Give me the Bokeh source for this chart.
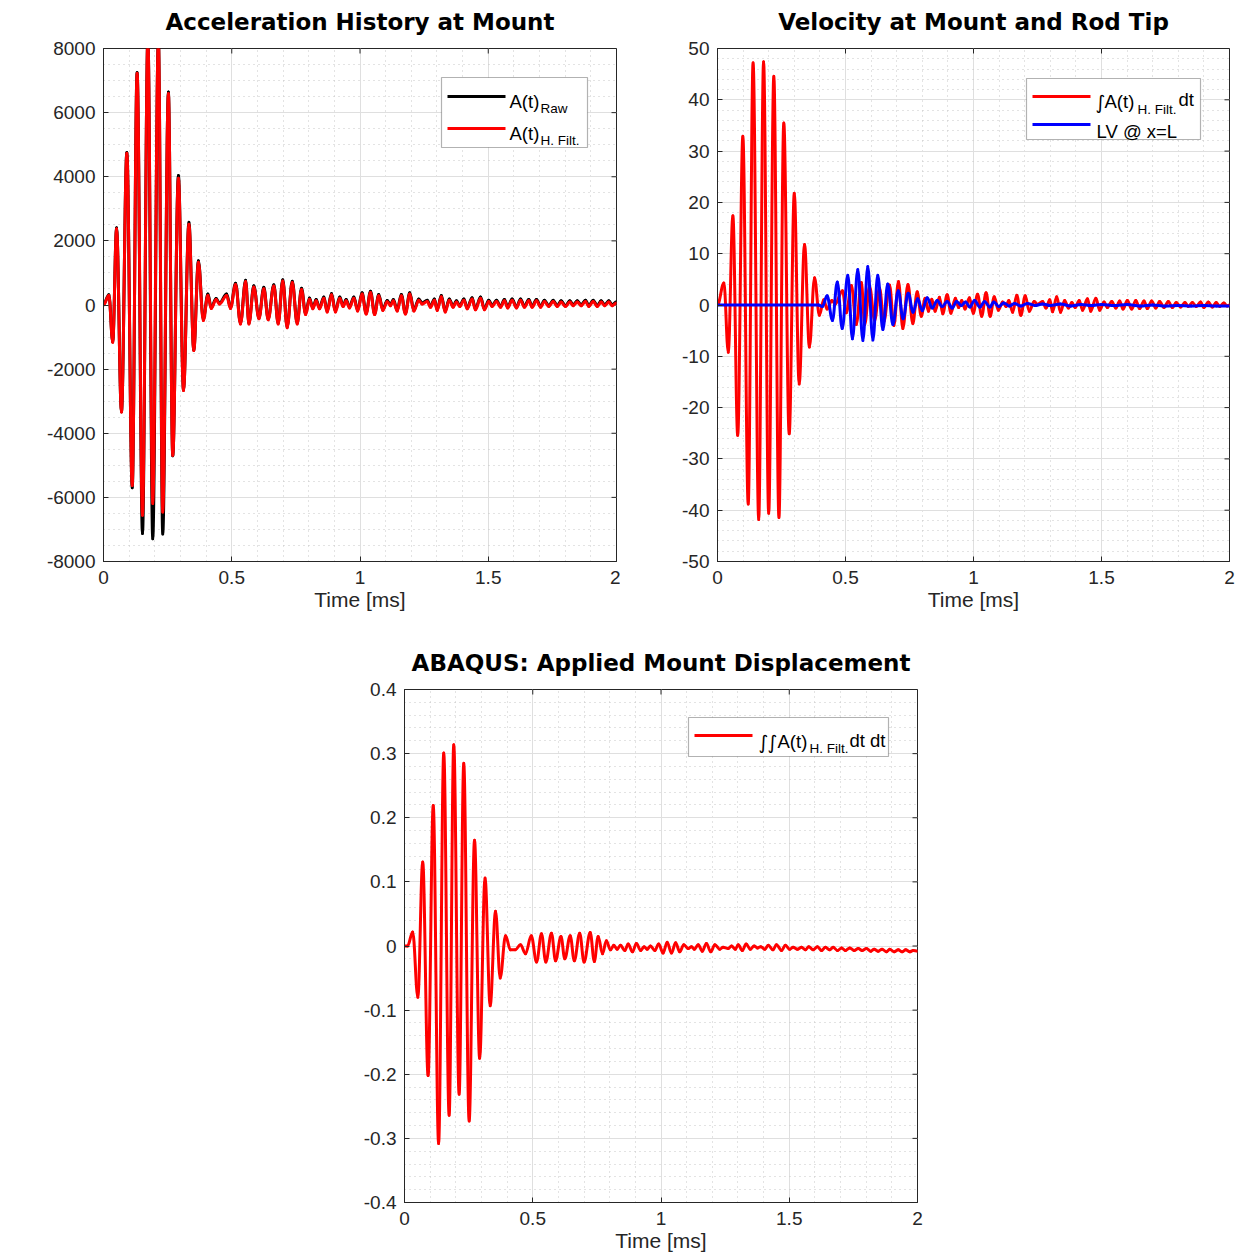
import numpy as np
from bokeh.plotting import figure
from bokeh.layouts import column, row
from bokeh.models import Range1d, FixedTicker, Label, BoxAnnotation, LinearAxis
from bokeh.embed import file_html
from bokeh.resources import INLINE

# ---------------------------------------------------------------- data
# Acceleration at the mount: successive extrema [ms], [m/s^2]
acc_time = [
    0.000, 0.021, 0.036, 0.051, 0.070, 0.091, 0.112, 0.131, 0.152, 0.173,
    0.192, 0.214, 0.231, 0.253, 0.270, 0.292, 0.312, 0.333, 0.352, 0.370,
    0.389, 0.407, 0.420, 0.439, 0.452, 0.480, 0.495, 0.515, 0.534, 0.554,
    0.567, 0.586, 0.606, 0.625, 0.642, 0.664, 0.681, 0.699, 0.716, 0.736,
    0.755, 0.772, 0.788, 0.803, 0.816, 0.829, 0.842, 0.859, 0.872, 0.889,
    0.904, 0.921, 0.934, 0.946, 0.959, 0.976, 0.991, 1.008, 1.024, 1.041,
    1.057, 1.073, 1.089, 1.106, 1.119, 1.130, 1.145, 1.161, 1.177, 1.194,
    1.210, 1.229, 1.242, 1.262, 1.275, 1.290, 1.301, 1.317, 1.332, 1.348,
    1.363, 1.376, 1.389, 1.405, 1.418, 1.437, 1.450, 1.470, 1.485, 1.502,
    1.515, 1.532, 1.548, 1.563, 1.576, 1.593, 1.610, 1.626, 1.641, 1.658,
    1.671, 1.688, 1.704, 1.719, 1.736, 1.753, 1.769, 1.784, 1.801, 1.818,
    1.831, 1.847, 1.862, 1.879, 1.892, 1.909, 1.925, 1.940, 1.954, 1.970,
    1.983, 2.000,
]
acc_filtered = [
    0, 300, -1160, 2380, -3340, 4730, -5630, 7230, -6560, 8300,
    -6190, 8250, -6460, 6600, -4690, 3950, -2670, 2520, -1420, 1330,
    -480, 300, -110, 170, 30, 300, -110, 640, -590, 730,
    -590, 560, -430, 510, -460, 590, -590, 750, -710, 700,
    -590, 480, -300, 180, -120, 130, -120, 210, -220, 320,
    -220, 210, -50, 130, -90, 210, -190, 340, -280, 390,
    -300, 290, -170, 100, -20, 130, -190, 290, -280, 340,
    -190, 150, 30, 110, -70, 150, -170, 260, -220, 150,
    -70, 90, -50, 150, -120, 190, -150, 210, -150, 110,
    -50, 110, -70, 130, -90, 150, -90, 150, -70, 130,
    -70, 130, -70, 110, -50, 110, -50, 90, -50, 90,
    -20, 90, -20, 110, -50, 110, -50, 90, -20, 90,
    -20, 60,
]
acc_raw = [
    20, 320, -1150, 2410, -3330, 4760, -5700, 7250, -7130, 8350,
    -7290, 8300, -7140, 6640, -4700, 4040, -2650, 2580, -1400, 1380,
    -450, 340, -80, 200, 60, 340, -80, 680, -560, 770,
    -560, 600, -400, 550, -430, 630, -560, 790, -680, 740,
    -560, 520, -270, 220, -90, 170, -90, 250, -190, 360,
    -190, 250, -20, 170, -60, 250, -160, 380, -250, 430,
    -270, 330, -140, 140, 10, 170, -160, 330, -250, 380,
    -160, 190, 60, 150, -40, 190, -140, 300, -190, 190,
    -40, 130, -20, 190, -90, 230, -120, 250, -120, 150,
    -20, 150, -40, 170, -60, 190, -60, 190, -40, 170,
    -40, 170, -40, 150, -20, 150, -20, 130, -20, 130,
    10, 130, 10, 150, -20, 150, -20, 130, 10, 130,
    10, 100,
]

# Velocity: integrated mount acceleration and laser vibrometer at the rod tip [mm/s]
vel_time = [
    0.000, 0.025, 0.042, 0.060, 0.079, 0.099, 0.120, 0.139, 0.161, 0.180,
    0.200, 0.220, 0.240, 0.259, 0.280, 0.300, 0.319, 0.340, 0.359, 0.379,
    0.398, 0.415, 0.428, 0.447, 0.460, 0.488, 0.503, 0.523, 0.542, 0.562,
    0.575, 0.594, 0.614, 0.633, 0.650, 0.672, 0.689, 0.707, 0.724, 0.744,
    0.763, 0.780, 0.796, 0.811, 0.824, 0.837, 0.850, 0.867, 0.880, 0.897,
    0.912, 0.929, 0.942, 0.954, 0.967, 0.984, 0.999, 1.016, 1.032, 1.049,
    1.065, 1.081, 1.097, 1.114, 1.127, 1.138, 1.153, 1.169, 1.185, 1.202,
    1.218, 1.237, 1.250, 1.270, 1.283, 1.298, 1.309, 1.325, 1.340, 1.356,
    1.371, 1.384, 1.397, 1.413, 1.426, 1.445, 1.458, 1.478, 1.493, 1.510,
    1.523, 1.540, 1.556, 1.571, 1.584, 1.601, 1.618, 1.634, 1.649, 1.666,
    1.679, 1.696, 1.712, 1.727, 1.744, 1.761, 1.777, 1.792, 1.809, 1.826,
    1.839, 1.855, 1.870, 1.887, 1.900, 1.917, 1.933, 1.948, 1.962, 1.978,
    1.991, 2.000,
]
vel_integrated = [
    0, 4.3, -9.2, 17.4, -25.4, 32.9, -38.8, 47.2, -41.8, 47.4,
    -40.6, 44.6, -41.4, 35.5, -25.1, 21.8, -15.4, 11.8, -8.2, 5.3,
    -2.0, 1.0, -0.8, 0.9, 0.2, 2.8, -1.5, 3.8, -3.8, 4.4,
    -3.8, 3.6, -3.0, 3.3, -3.2, 3.9, -4.0, 4.6, -4.6, 4.0,
    -3.6, 2.6, -2.2, 1.3, -1.2, 1.1, -1.2, 1.5, -1.7, 2.0,
    -1.6, 1.3, -0.5, 0.9, -0.8, 1.4, -1.6, 2.1, -2.2, 2.4,
    -2.2, 1.6, -1.0, 0.6, -0.3, 0.9, -1.4, 1.9, -2.0, 1.8,
    -1.2, 0.7, 0.1, 0.7, -0.6, 1.0, -1.3, 1.6, -1.4, 0.9,
    -0.6, 0.5, -0.5, 0.9, -1.0, 1.2, -1.2, 1.3, -1.0, 0.6,
    -0.5, 0.7, -0.6, 0.8, -0.8, 0.9, -0.8, 0.9, -0.7, 0.8,
    -0.7, 0.8, -0.6, 0.7, -0.5, 0.7, -0.5, 0.5, -0.4, 0.5,
    -0.3, 0.5, -0.3, 0.6, -0.5, 0.6, -0.4, 0.5, -0.3, 0.4,
    -0.2, 0.0,
]
lv_time = [
    0.000, 0.395, 0.410, 0.428, 0.449, 0.468, 0.487, 0.509, 0.527, 0.548,
    0.568, 0.587, 0.607, 0.626, 0.646, 0.665, 0.685, 0.706, 0.725, 0.745,
    0.764, 0.782, 0.800, 0.819, 0.839, 0.858, 0.878, 0.897, 0.917, 0.934,
    0.952, 0.969, 0.986, 1.004, 1.025, 1.043, 1.064, 1.079, 1.099, 1.118,
    1.140, 1.160, 1.185, 1.210, 1.240, 1.270, 1.300, 1.340, 1.380, 1.420,
    1.460, 1.500, 1.550, 1.600, 1.650, 1.700, 1.750, 1.800, 1.850, 1.900,
    1.950, 2.000,
]
lv_tip = [
    0, 0, -0.3, 1.8, -3.0, 4.5, -4.6, 5.8, -6.6, 6.9,
    -6.9, 7.5, -6.8, 5.8, -4.8, 4.1, -3.8, 2.8, -2.7, 2.3,
    -1.4, 1.2, -1.1, 1.4, -0.6, 0.9, -0.3, 0.7, -0.6, 0.7,
    -0.1, 0.6, -0.4, 0.9, -0.4, 0.7, -0.4, 0.6, -0.3, 0.4,
    -0.2, 0.3, -0.2, 0.3, -0.1, 0.2, -0.1, 0.2, -0.2, 0.1,
    -0.1, 0.1, -0.1, 0.1, -0.2, 0.0, -0.2, -0.1, -0.2, -0.1,
    -0.2, -0.2,
]

# Displacement applied at the mount in ABAQUS [um]
disp_time = [
    0.000, 0.012, 0.032, 0.052, 0.071, 0.092, 0.112, 0.133, 0.153, 0.174,
    0.192, 0.213, 0.231, 0.252, 0.273, 0.293, 0.314, 0.334, 0.355, 0.373,
    0.394, 0.413, 0.432, 0.452, 0.472, 0.494, 0.515, 0.534, 0.551, 0.573,
    0.589, 0.610, 0.625, 0.646, 0.662, 0.683, 0.700, 0.724, 0.740, 0.755,
    0.772, 0.787, 0.803, 0.816, 0.829, 0.842, 0.859, 0.872, 0.889, 0.904,
    0.921, 0.934, 0.946, 0.959, 0.976, 0.991, 1.008, 1.024, 1.041, 1.057,
    1.073, 1.089, 1.106, 1.119, 1.130, 1.145, 1.161, 1.177, 1.194, 1.210,
    1.229, 1.242, 1.262, 1.275, 1.290, 1.301, 1.317, 1.332, 1.348, 1.363,
    1.376, 1.389, 1.405, 1.418, 1.437, 1.450, 1.470, 1.485, 1.502, 1.515,
    1.532, 1.548, 1.563, 1.576, 1.593, 1.610, 1.626, 1.641, 1.658, 1.671,
    1.688, 1.704, 1.719, 1.736, 1.753, 1.769, 1.784, 1.801, 1.818, 1.831,
    1.847, 1.862, 1.879, 1.892, 1.909, 1.925, 1.940, 1.954, 1.970, 1.983,
    2.000,
]
disp_applied = [
    0.000, 0.000, 0.022, -0.080, 0.131, -0.202, 0.219, -0.308, 0.301, -0.264,
    0.314, -0.231, 0.285, -0.273, 0.165, -0.175, 0.106, -0.093, 0.054, -0.050,
    0.016, -0.006, -0.006, 0.002, -0.012, 0.016, -0.025, 0.019, -0.025, 0.020,
    -0.023, 0.015, -0.020, 0.016, -0.023, 0.020, -0.025, 0.021, -0.024, 0.015,
    -0.012, 0.008, -0.006, 0.001, -0.005, 0.001, -0.007, 0.003, -0.009, 0.004,
    -0.007, -0.001, -0.005, 0.000, -0.007, 0.003, -0.011, 0.006, -0.011, 0.005,
    -0.009, 0.002, -0.004, -0.001, -0.005, 0.002, -0.008, 0.004, -0.009, 0.002,
    -0.005, -0.002, -0.004, 0.000, -0.005, 0.002, -0.007, 0.003, -0.005, 0.000,
    -0.003, -0.001, -0.005, 0.001, -0.006, 0.002, -0.007, 0.001, -0.005, -0.002,
    -0.005, -0.002, -0.006, -0.001, -0.006, -0.001, -0.007, -0.002, -0.006, -0.002,
    -0.007, -0.003, -0.007, -0.003, -0.007, -0.004, -0.007, -0.004, -0.008, -0.005,
    -0.008, -0.005, -0.009, -0.005, -0.009, -0.006, -0.009, -0.006, -0.009, -0.007,
    -0.008,
]

# Axis ticks and their labels
time_ticks = [0, 0.5, 1, 1.5, 2]
time_tick_labels = ["0", "0.5", "1", "1.5", "2"]
time_minor = [round(0.1 * i, 1) for i in range(21)]
acc_ticks = [-8000, -6000, -4000, -2000, 0, 2000, 4000, 6000, 8000]
acc_tick_labels = ["-8000", "-6000", "-4000", "-2000", "0", "2000", "4000", "6000", "8000"]
acc_minor = list(range(-8000, 8001, 500))
vel_ticks = [-50, -40, -30, -20, -10, 0, 10, 20, 30, 40, 50]
vel_tick_labels = ["-50", "-40", "-30", "-20", "-10", "0", "10", "20", "30", "40", "50"]
vel_minor = list(range(-50, 51, 2))
disp_ticks = [-0.4, -0.3, -0.2, -0.1, 0, 0.1, 0.2, 0.3, 0.4]
disp_tick_labels = ["-0.4", "-0.3", "-0.2", "-0.1", "0", "0.1", "0.2", "0.3", "0.4"]
disp_minor = [round(-0.4 + 0.02 * i, 2) for i in range(41)]

# ---------------------------------------------------------------- styling
SANS = "Liberation Sans"
TITLE_FONT = "DejaVu Sans"
INK = "#262626"
TICK_PX = "19px"
TICK_LEN = 5  # px, inward tick length

# frame placement of each panel on the page (pixels) and its data window
G1 = dict(left=103, right=616, top=48, bottom=561, x0=0, x1=2, y0=-8000, y1=8000)
G2 = dict(left=717, right=1229, top=48, bottom=561, x0=0, x1=2, y0=-50, y1=50)
G3 = dict(left=404, right=917, top=689, bottom=1202, x0=0, x1=2, y0=-0.4, y1=0.4)


def to_data(g, px, py):
    """Page pixel position -> data coordinates of the panel g."""
    x = g["x0"] + (px - g["left"]) / (g["right"] - g["left"]) * (g["x1"] - g["x0"])
    y = g["y1"] - (py - g["top"]) / (g["bottom"] - g["top"]) * (g["y1"] - g["y0"])
    return x, y


def text_at(p, g, px, py, txt, size, angle=0.0, align="left", baseline="alphabetic",
            font=SANS, color="black"):
    x, y = to_data(g, px, py)
    p.add_layout(Label(x=x, y=y, text=txt, text_font=font, text_font_size=size,
                       text_color=color, text_align=align,
                       text_baseline=baseline, angle=angle, level="overlay"))


def make_panel(g, title, page_left, page_top, width, height,
               yticks, ytick_labels, yminor):
    p = figure(
        width=width, height=height, title=None,
        x_range=Range1d(g["x0"], g["x1"]), y_range=Range1d(g["y0"], g["y1"]),
        output_backend="svg", toolbar_location=None,
        min_border_left=g["left"] - page_left,
        min_border_right=page_left + width - g["right"],
        min_border_top=g["top"] - page_top,
        min_border_bottom=page_top + height - g["bottom"],
        background_fill_color="white", border_fill_color="white",
    )
    # panel title, carried by a bare axis along the top edge
    top_axis = LinearAxis(ticker=FixedTicker(ticks=[]), axis_label=title,
                          axis_line_color=None, major_tick_in=0, major_tick_out=0,
                          minor_tick_in=0, minor_tick_out=0, major_label_standoff=0,
                          axis_label_standoff=14,
                          axis_label_text_font=TITLE_FONT,
                          axis_label_text_font_style="bold",
                          axis_label_text_font_size="23px",
                          axis_label_text_color="black")
    p.add_layout(top_axis, "above")

    xt = FixedTicker(ticks=time_ticks, minor_ticks=time_minor)
    yt = FixedTicker(ticks=yticks, minor_ticks=yminor)

    for ax in p.below:
        ax.ticker = xt
        ax.major_label_overrides = dict(zip(time_ticks, time_tick_labels))
        ax.axis_label = "Time [ms]"
        ax.axis_label_standoff = 1
        ax.major_label_standoff = 9
    for ax in p.left:
        ax.ticker = yt
        ax.major_label_overrides = dict(zip(yticks, ytick_labels))
        ax.major_label_standoff = 8
    for ax in list(p.below) + list(p.left):
        ax.axis_line_color = INK
        ax.major_tick_line_color = INK
        ax.major_tick_in = TICK_LEN
        ax.major_tick_out = 0
        ax.minor_tick_in = 0
        ax.minor_tick_out = 0
        ax.major_label_text_font = SANS
        ax.major_label_text_font_size = TICK_PX
        ax.major_label_text_color = INK
        ax.axis_label_text_font = SANS
        ax.axis_label_text_font_size = "21px"
        ax.axis_label_text_font_style = "normal"
        ax.axis_label_text_color = INK

    p.xgrid.ticker = xt
    p.ygrid.ticker = yt
    for gr in (p.xgrid, p.ygrid):
        gr.grid_line_color = "#dfdfdf"
        gr.grid_line_width = 1
        gr.minor_grid_line_color = "#c6c6c6"
        gr.minor_grid_line_dash = "1 4"
        gr.minor_grid_line_width = 1
    p.outline_line_color = INK
    p.outline_line_width = 1

    # inward tick marks on the right and top edges of the box
    dx = TICK_LEN / (g["right"] - g["left"]) * (g["x1"] - g["x0"])
    dy = TICK_LEN / (g["bottom"] - g["top"]) * (g["y1"] - g["y0"])
    p.segment(x0=[g["x1"]] * len(yticks), y0=yticks,
              x1=[g["x1"] - dx] * len(yticks), y1=yticks,
              line_color=INK, line_width=1)
    p.segment(x0=time_ticks, y0=[g["y1"]] * len(time_ticks),
              x1=time_ticks, y1=[g["y1"] - dy] * len(time_ticks),
              line_color=INK, line_width=1)
    return p


def trace(p, t, v, color, width=3):
    """Smooth curve through successive extrema, one cubic Bezier per half wave."""
    t = np.asarray(t, dtype=float)
    v = np.asarray(v, dtype=float)
    x0, x1, y0, y1 = t[:-1], t[1:], v[:-1], v[1:]
    d = x1 - x0
    p.bezier(x0=x0, y0=y0, x1=x1, y1=y1,
             cx0=x0 + 0.364 * d, cy0=y0, cx1=x1 - 0.364 * d, cy1=y1,
             line_color=color, line_width=width, line_cap="round")


def legend_box(p, g, l, t, r, b):
    x0, y0 = to_data(g, l, b)
    x1, y1 = to_data(g, r, t)
    p.add_layout(BoxAnnotation(left=x0, right=x1, bottom=y0, top=y1,
                               fill_color="white", fill_alpha=1.0,
                               line_color="black", line_width=1.2, level="annotation"))


def legend_line(p, g, xa, xb, y, color):
    a = to_data(g, xa, y)
    b = to_data(g, xb, y)
    p.line([a[0], b[0]], [a[1], b[1]], line_color=color, line_width=3, level="overlay")


LEG = "18.5px"
SUB = "13.5px"
INT = "DejaVu Sans"

# ---------------------------------------------------------------- panel 1
p1 = make_panel(G1, "Acceleration History at Mount", 0, 0, 620, 625,
                acc_ticks, acc_tick_labels, acc_minor)
trace(p1, acc_time, acc_raw, "black")
trace(p1, acc_time, acc_filtered, "red")
text_at(p1, G1, 25, 350, "Acceleration [m/s²]", "21px", angle=np.pi / 2,
        align="center", baseline="middle", color=INK)
legend_box(p1, G1, 441, 77, 587, 147)
legend_line(p1, G1, 447, 505, 96, "black")
legend_line(p1, G1, 447, 505, 128, "red")
text_at(p1, G1, 509, 101, "A(t)", LEG)
text_at(p1, G1, 540, 108, "Raw", SUB)
text_at(p1, G1, 509, 133, "A(t)", LEG)
text_at(p1, G1, 540, 140, "H. Filt.", SUB)

# ---------------------------------------------------------------- panel 2
p2 = make_panel(G2, "Velocity at Mount and Rod Tip", 620, 0, 621, 625,
                vel_ticks, vel_tick_labels, vel_minor)
trace(p2, vel_time, vel_integrated, "red")
trace(p2, lv_time, lv_tip, "blue")
text_at(p2, G2, 660, 347, "Velocity [mm/s]", "21px", angle=np.pi / 2,
        align="center", baseline="middle", color=INK)
legend_box(p2, G2, 1026, 78, 1200, 139)
legend_line(p2, G2, 1032, 1090, 96, "red")
legend_line(p2, G2, 1032, 1090, 124, "blue")
text_at(p2, G2, 1095, 101, "∫", "19px", font=INT)
text_at(p2, G2, 1104, 101, "A(t)", LEG)
text_at(p2, G2, 1137, 109, "H. Filt.", SUB)
text_at(p2, G2, 1178, 99, "dt", LEG)
text_at(p2, G2, 1096, 131, "LV @ x=L", LEG)

# ---------------------------------------------------------------- panel 3
p3 = make_panel(G3, "ABAQUS: Applied Mount Displacement", 0, 625, 1241, 640,
                disp_ticks, disp_tick_labels, disp_minor)
trace(p3, disp_time, disp_applied, "red")
text_at(p3, G3, 345, 989, "Displacement [μm]", "21px", angle=np.pi / 2,
        align="center", baseline="middle", color=INK)
legend_box(p3, G3, 688, 717, 888, 756)
legend_line(p3, G3, 694, 752, 735, "red")
text_at(p3, G3, 758, 741, "∫", "19px", font=INT)
text_at(p3, G3, 767, 741, "∫", "19px", font=INT)
text_at(p3, G3, 777, 741, "A(t)", LEG)
text_at(p3, G3, 809, 748, "H. Filt.", SUB)
text_at(p3, G3, 849, 740, "dt dt", LEG)

layout = column(row(p1, p2), p3)
open("out.html", "w").write(file_html(layout, INLINE))
